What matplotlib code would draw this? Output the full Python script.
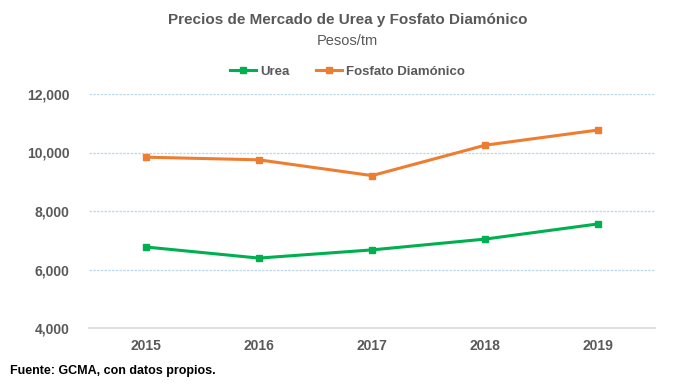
import matplotlib.pyplot as plt
from matplotlib import font_manager

years = ['2015', '2016', '2017', '2018', '2019']
urea = [6770, 6390, 6670, 7040, 7560]
fosfato = [9840, 9750, 9210, 10250, 10770]
yticks = [4000, 6000, 8000, 10000, 12000]

names = {f.name for f in font_manager.fontManager.ttflist}
fam = ['Liberation Sans Narrow', 'DejaVu Sans'] if 'Liberation Sans Narrow' in names else ['Liberation Sans', 'DejaVu Sans']
plt.rcParams['font.family'] = fam

grey = '#595959'
green = '#00B050'
orange = '#ED7D31'

fig = plt.figure(figsize=(6.95, 3.89), dpi=100)
ax = fig.add_axes([89/695, 1-328/389, (655-89)/695, (328-94)/389])

x = range(len(years))
ax.plot(x, urea, color=green, lw=2.2, marker='s', ms=5, label='Urea')
ax.plot(x, fosfato, color=orange, lw=2.2, marker='s', ms=5, label='Fosfato Diamónico')

ax.set_xlim(-0.5, len(years)-0.5)
ax.set_ylim(4000, 12000)
ax.set_yticks(yticks)
ax.set_yticklabels([f'{v:,}' for v in yticks], fontsize=10, fontweight='bold', color=grey)
ax.set_xticks(list(x))
ax.set_xticklabels(years, fontsize=10, fontweight='bold', color=grey)
ax.tick_params(length=0, pad=14)
ax.tick_params(axis='x', pad=8)

for v in yticks[1:]:
    ax.axhline(v, color='#BDD7EE', lw=0.9, ls=(0, (2, 1)), zorder=0)
for s in ['top', 'right', 'left']:
    ax.spines[s].set_visible(False)
ax.spines['bottom'].set_color('#D9D9D9')
ax.spines['bottom'].set_linewidth(1.2)

fig.text(0.5, 1-20/389, 'Precios de Mercado de Urea y Fosfato Diamónico', ha='center', va='center',
         fontsize=11, fontweight='bold', color=grey)
fig.text(0.5, 1-41/389, 'Pesos/tm', ha='center', va='center', fontsize=10.5, color=grey)
leg = fig.legend(loc='center', bbox_to_anchor=(0.5, 1-72/389), ncol=2, frameon=False,
                 fontsize=9.5, handlelength=2.0, columnspacing=2.0, handletextpad=0.3)
for t in leg.get_texts():
    t.set_color(grey)
    t.set_fontweight('bold')
fig.text(10/695, 1-371/389, 'Fuente: GCMA, con datos propios.', ha='left', va='center',
         fontsize=9, fontweight='bold', color='black')

fig.savefig('out.png', dpi=100)
